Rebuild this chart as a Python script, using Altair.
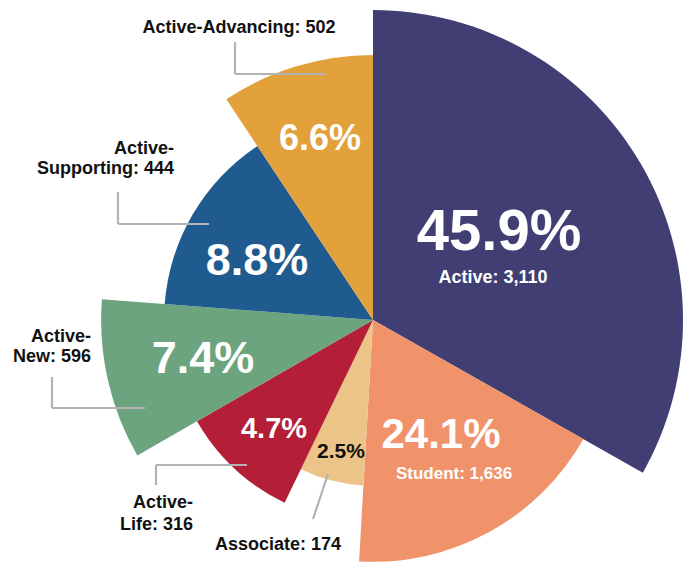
import math
import altair as alt
import pandas as pd

# ---- data ----
categories = ["Active", "Student", "Associate", "Active-Life", "Active-New",
              "Active-Supporting", "Active-Advancing"]
counts = [3110, 1636, 174, 316, 596, 444, 502]
pct_labels = ["45.9%", "24.1%", "2.5%", "4.7%", "7.4%", "8.8%", "6.6%"]
# angular share of each slice (degrees, as drawn) and relative radius (0-100)
slice_angles = [119.5, 63.8, 22.5, 34.3, 34.3, 52.0, 33.6]
slice_radius = [100, 78, 53.5, 65.5, 87.7, 67.4, 85.5]
colors = ["#403e72", "#f0936b", "#ecc488", "#b41e36", "#6ba47e", "#1f5b8f", "#e2a13a"]

FONT = "Noto Sans Condensed, Liberation Sans Narrow, Liberation Sans, sans-serif"
CX, CY = 373, 320
W, H = 686, 563

ends = []
acc = 0.0
for a in slice_angles:
    acc += a
    ends.append(acc)
starts = [e - a for e, a in zip(ends, slice_angles)]

slices = pd.DataFrame({
    "category": categories,
    "count": counts,
    "start": starts,
    "end": ends,
    "r": slice_radius,
})

arcs = alt.Chart(slices).mark_arc(stroke=None).encode(
    x=alt.value(CX),
    y=alt.value(CY),
    theta=alt.Theta("start:Q", scale=alt.Scale(domain=[0, 360], range=[0, 2 * math.pi])),
    theta2="end:Q",
    radius=alt.Radius("r:Q", scale=alt.Scale(type="linear", domain=[0, 100], range=[0, 310], zero=True)),
    color=alt.Color("category:N", scale=alt.Scale(domain=categories, range=colors), legend=None),
)

# ---- label layout (positions kept separate from data) ----
pct_pos = [(499, 250, 58), (441, 448, 42), (341, 458, 21), (274, 438, 29),
           (203, 373, 45), (257, 275, 45), (320, 150, 36)]
pct_color = ["white", "white", "#111111", "white", "white", "white", "white"]

inner = pd.DataFrame({
    "text": pct_labels + [f"Active: {counts[0]:,}", f"Student: {counts[1]:,}"],
    "x": [p[0] for p in pct_pos] + [493, 454],
    "y": [p[1] for p in pct_pos] + [283, 479],
    "size": [p[2] for p in pct_pos] + [18, 17],
    "color": pct_color + ["white", "white"],
})

center_outer = pd.DataFrame({
    "text": [f"Active-Advancing: {counts[6]}", f"Associate: {counts[2]}"],
    "x": [239, 278],
    "y": [33, 550],
    "size": [18, 18],
})

right_outer = pd.DataFrame({
    "text": ["Active-", f"Supporting: {counts[5]}", "Active-", f"New: {counts[4]}",
             "Active-", f"Life: {counts[3]}"],
    "x": [174, 174, 91, 91, 193, 193],
    "y": [154, 174, 342, 362, 508, 530],
    "size": [18, 18, 18, 18, 18, 18],
})

segments = pd.DataFrame({
    "x": [235, 235, 118, 118, 52, 52, 156, 156, 328],
    "y": [42, 74, 192, 224, 377, 408, 465, 465, 474],
    "x2": [235, 326, 118, 209, 52, 145, 156, 247, 313],
    "y2": [74, 74, 224, 224, 408, 408, 485, 465, 519],
})

leaders = alt.Chart(segments).mark_rule(color="#b3b3b6", strokeWidth=2.2).encode(
    x=alt.X("x:Q", scale=None), y=alt.Y("y:Q", scale=None),
    x2="x2:Q", y2="y2:Q",
)

inner_text = alt.Chart(inner).mark_text(
    font=FONT, fontWeight="bold", align="center", baseline="alphabetic"
).encode(
    x=alt.X("x:Q", scale=None), y=alt.Y("y:Q", scale=None),
    size=alt.Size("size:Q", scale=None),
    color=alt.Color("color:N", scale=None),
    text="text:N",
)

center_text = alt.Chart(center_outer).mark_text(
    font=FONT, fontWeight="bold", align="center", baseline="alphabetic", color="#111111"
).encode(
    x=alt.X("x:Q", scale=None), y=alt.Y("y:Q", scale=None),
    size=alt.Size("size:Q", scale=None),
    text="text:N",
)

right_text = alt.Chart(right_outer).mark_text(
    font=FONT, fontWeight="bold", align="right", baseline="alphabetic", color="#111111"
).encode(
    x=alt.X("x:Q", scale=None), y=alt.Y("y:Q", scale=None),
    size=alt.Size("size:Q", scale=None),
    text="text:N",
)

chart = alt.layer(arcs, leaders, inner_text, center_text, right_text).properties(
    width=W, height=H, padding=0, autosize=alt.AutoSizeParams(type="none"),
    background="white",
).configure_view(stroke=None)

chart.save("out.html", embed_options={"renderer": "svg", "actions": False})
